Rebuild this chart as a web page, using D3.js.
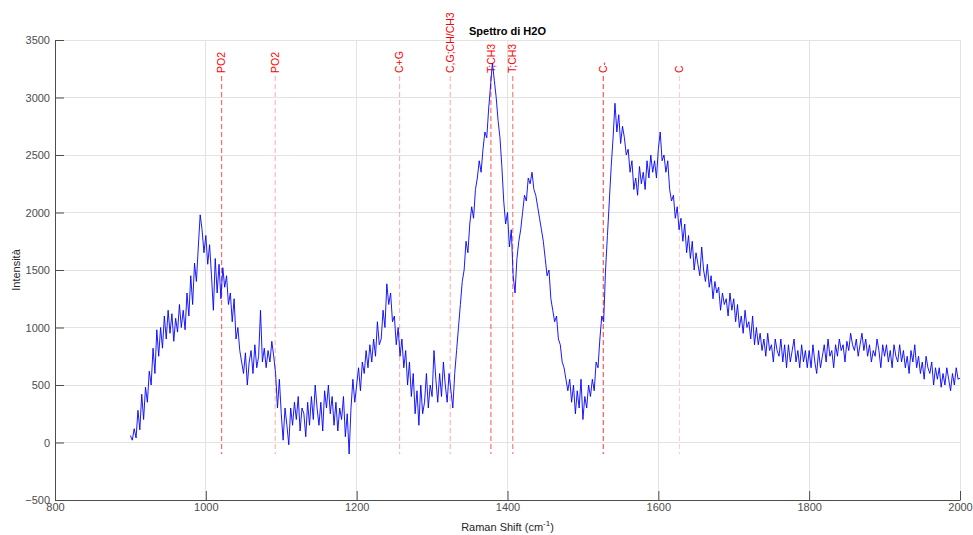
<!DOCTYPE html>
<html><head><meta charset="utf-8">
<script src="https://cdn.jsdelivr.net/npm/d3@7"></script>
<style>
html,body{margin:0;padding:0;background:#fff;}
svg{display:block;font-family:"Liberation Sans",Arial,Helvetica,sans-serif;}
</style></head>
<body>
<svg id="chart" width="973" height="535"></svg>
<script>
// Raman shift sampling grid (cm^-1)
const shiftStart = 900;
const shiftStep = 2.5;
// Intensity values, one per sampling step
const intensity = [
60,20,120,40, 280,110,420,200, 480,350,620,500, 820,600,980,750, 1000,820,1100,900,
1150,950,1120,880, 1080,960,1200,1000, 1150,980,1300,1100, 1450,1200,1560,1400, 1700,1980,1850,1650,
1800,1550,1720,1450, 1150,1600,1300,1550, 1250,1520,1350,1450, 1200,1300,1050,1250, 900,1000,800,700,
600,780,500,700, 800,600,850,650, 750,1150,700,820, 650,800,700,880, 750,600,300,550,
250,20,300,150, -20,300,150,350, 200,400,100,300, 250,50,350,150, 400,200,500,300,
150,350,100,450, 300,500,250,400, 150,350,100,300, 200,400,50,250, -100,300,550,350,
500,650,450,700, 600,800,650,850, 700,900,750,1050, 850,900,1150,1000, 1380,1200,1300,1050,
1100,850,1000,750, 900,650,800,500, 700,400,600,250, 450,150,500,250, 350,600,300,500,
400,800,550,350, 600,400,700,500, 350,600,450,300, 600,800,1000,1200, 1400,1500,1750,1650,
1900,2050,1950,2200, 2300,2450,2350,2550, 2700,2650,2900,3100, 3300,3150,3000,2800, 2650,2400,2100,1900,
2000,1700,1850,1450, 1300,1600,1750,1850, 2000,2150,2100,2300, 2250,2350,2200,2150, 2050,1950,1850,1750,
1600,1450,1500,1250, 1150,1050,1100,900, 850,700,650,550, 450,550,350,500, 250,450,300,550,
200,400,300,500, 400,550,450,700, 650,900,1100,1050, 1500,1800,2100,2400, 2650,2950,2700,2850,
2600,2750,2650,2500, 2550,2350,2450,2200, 2300,2150,2400,2250, 2350,2200,2450,2300, 2500,2350,2450,2300,
2550,2700,2450,2500, 2350,2450,2200,2100, 2150,1950,2050,1850, 1950,1750,1900,1650, 1800,1600,1750,1500,
1650,1550,1450,1700, 1500,1400,1550,1350, 1450,1250,1400,1300, 1350,1150,1300,1200, 1250,1100,1300,1150,
1250,1050,1200,1000, 1100,950,1150,1000, 1050,900,1100,850, 1000,850,950,800, 900,750,950,800,
850,700,900,800, 750,900,700,850, 650,850,700,800, 900,700,800,650, 850,700,800,650,
800,650,850,700, 600,800,650,750, 850,700,900,750, 800,650,850,750, 900,800,850,700,
880,800,950,850, 800,900,750,850, 950,800,900,750, 850,700,800,750, 900,800,650,850,
750,850,700,800, 650,850,750,700, 850,700,800,650, 750,600,800,700, 850,650,750,600,
700,550,750,650, 600,700,500,650, 550,650,480,600, 500,650,550,450, 600,500,650,550,
560
];
// Band assignment markers
const bandPositions = [1021, 1092, 1257, 1324, 1378, 1407, 1527, 1628];
const bandLabels = ["PO2", "PO2", "C+G", "C,G;CH/CH3", "T;CH3", "T;CH3", "C-", "C"];
const bandOpacity = [0.7, 0.35, 0.35, 0.35, 0.7, 0.6, 0.8, 0.2];
// Axis ticks
const xTicks = [800, 1000, 1200, 1400, 1600, 1800, 2000];
const yTicks = [-500, 0, 500, 1000, 1500, 2000, 2500, 3000, 3500];

const data = intensity.map((v, i) => ({x: shiftStart + i * shiftStep, y: v}));

const svg = d3.select("#chart");
const L = 55, R = 960, T = 40, B = 500;
const x = d3.scaleLinear().domain([800, 2000]).range([L, R]);
const y = d3.scaleLinear().domain([-500, 3500]).range([B, T]);

// grid
const g = svg.append("g");
g.selectAll(".gx").data(xTicks).join("line")
  .attr("x1", d => x(d)).attr("x2", d => x(d)).attr("y1", T).attr("y2", B)
  .attr("stroke", "#e3e3e3").attr("stroke-width", 1).attr("shape-rendering","crispEdges");
g.selectAll(".gy").data(yTicks).join("line")
  .attr("y1", d => y(d)).attr("y2", d => y(d)).attr("x1", L).attr("x2", R)
  .attr("stroke", "#e3e3e3").attr("stroke-width", 1).attr("shape-rendering","crispEdges");

// axes
const fmt = d3.format("d");
const xAxis = d3.axisBottom(x).tickValues(xTicks).tickFormat(fmt).tickSizeInner(-9).tickSizeOuter(0).tickPadding(3);
const yAxis = d3.axisLeft(y).tickValues(yTicks).tickFormat(fmt).tickSizeInner(-9).tickSizeOuter(0).tickPadding(5);
const gx = svg.append("g").attr("transform", `translate(0,${B})`).style("color", "#4d4d4d").call(xAxis);
const gy = svg.append("g").attr("transform", `translate(${L},0)`).style("color", "#4d4d4d").call(yAxis);
[gx, gy].forEach(a => {
  a.select(".domain").attr("stroke", "#4d4d4d");
  a.selectAll(".tick line").attr("stroke", "#4d4d4d");
  a.selectAll(".tick text").attr("fill", "#4d4d4d").attr("font-size", 11)
    .attr("font-family", '"Liberation Sans",Arial,sans-serif');
});

// band markers
const bands = svg.append("g");
bandPositions.forEach((p, i) => {
  bands.append("line")
    .attr("x1", x(p)).attr("x2", x(p))
    .attr("y1", 76).attr("y2", y(-100))
    .attr("stroke", "#ff0000").attr("stroke-opacity", bandOpacity[i])
    .attr("stroke-width", 1).attr("stroke-dasharray", "5,3");
  bands.append("text")
    .attr("transform", `translate(${x(p)},73) rotate(-90)`)
    .attr("dy", "0.35em")
    .attr("fill", "#ff0000").attr("font-size", 10.5)
    .text(bandLabels[i]);
});

// spectrum line
const line = d3.line().x(d => x(d.x)).y(d => y(d.y));
svg.append("path").datum(data)
  .attr("d", line).attr("fill", "none")
  .attr("stroke", "#0000ff").attr("stroke-width", 0.9).attr("stroke-linejoin", "round");

// title and labels
svg.append("text").attr("x", (L + R) / 2).attr("y", 35).attr("text-anchor", "middle")
  .attr("font-size", 11).attr("font-weight", "bold").attr("fill", "#000").text("Spettro di H2O");
svg.append("text").attr("transform", `translate(20,${(T + B) / 2}) rotate(-90)`)
  .attr("text-anchor", "middle").attr("font-size", 11).attr("fill", "#262626").text("Intensità");
const xl = svg.append("text").attr("x", (L + R) / 2).attr("y", 531).attr("text-anchor", "middle")
  .attr("font-size", 11).attr("fill", "#262626");
xl.append("tspan").text("Raman Shift (cm");
xl.append("tspan").attr("font-size", 8).attr("dy", -5).text("-1");
xl.append("tspan").attr("dy", 5).text(")");
</script>
</body></html>
